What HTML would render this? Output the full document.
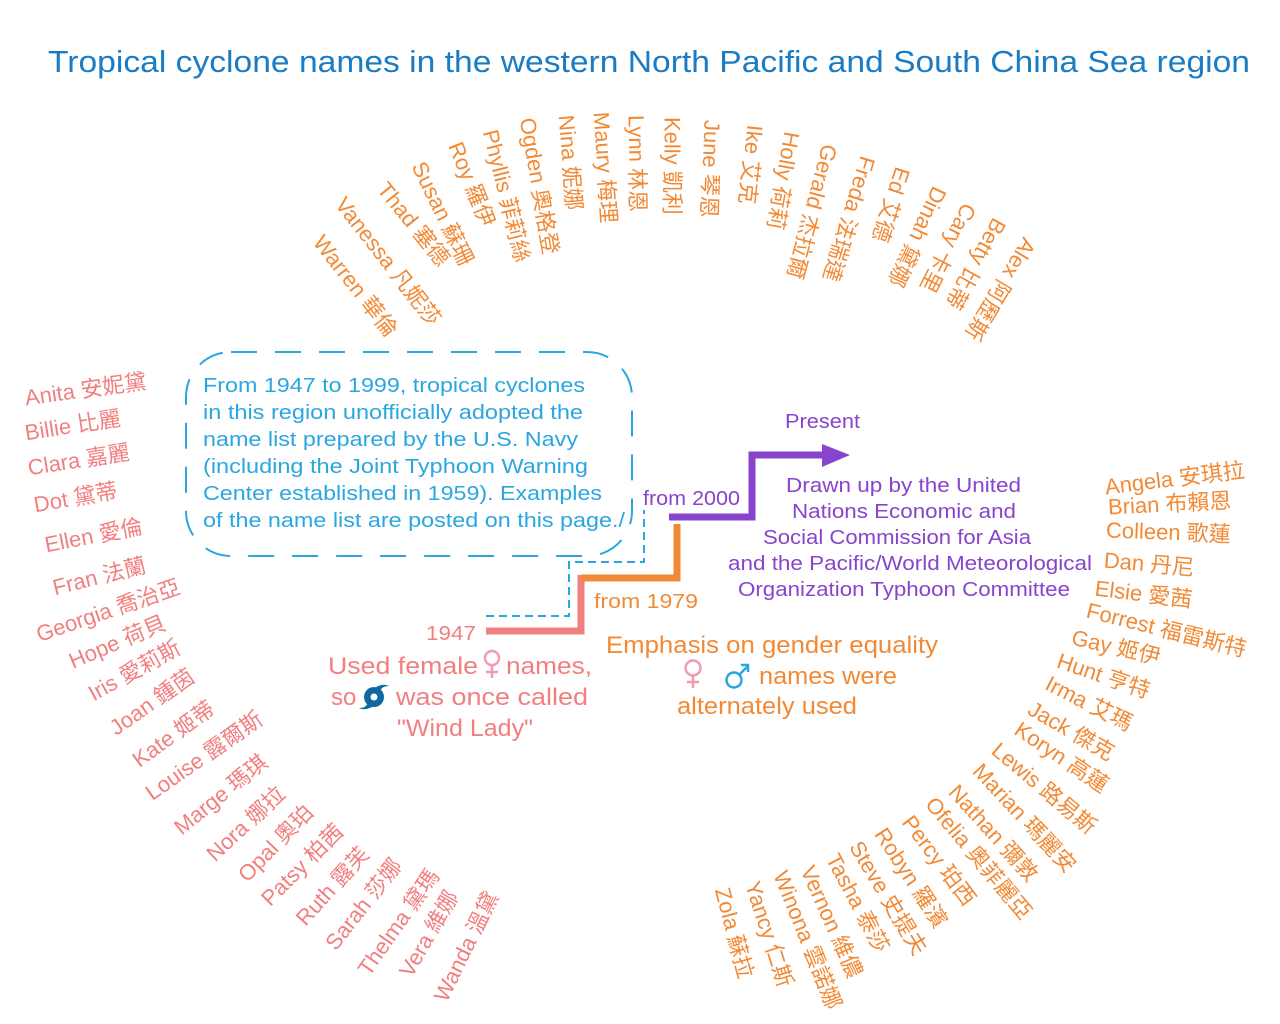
<!DOCTYPE html>
<html><head><meta charset="utf-8"><style>
html,body{margin:0;padding:0;background:#fff;}
svg{display:block;}
text{font-family:"Liberation Sans","Noto Sans CJK TC",sans-serif;}
.t{font-size:22px;fill:#f28a35;dominant-baseline:central;}
.p{font-size:22px;fill:#f27f80;dominant-baseline:central;}
.o{font-size:22px;fill:#f28a35;dominant-baseline:central;}
</style></head><body>
<svg width="1280" height="1024" viewBox="0 0 1280 1024" xmlns="http://www.w3.org/2000/svg">
<text x="48" y="72" font-size="31" fill="#1a7cc4" textLength="1202" lengthAdjust="spacingAndGlyphs">Tropical cyclone names in the western North Pacific and South China Sea region</text>

<text class="t" transform="translate(318,238) rotate(52)">Warren 華倫</text>
<text class="t" transform="translate(340,200) rotate(52)">Vanessa 凡妮莎</text>
<text class="t" transform="translate(382,185) rotate(51)">Thad 塞德</text>
<text class="t" transform="translate(418,163) rotate(64)">Susan 蘇珊</text>
<text class="t" transform="translate(455,143) rotate(68)">Roy 羅伊</text>
<text class="t" transform="translate(490,130) rotate(76)">Phyllis 菲莉絲</text>
<text class="t" transform="translate(527,118) rotate(80)">Ogden 奧格登</text>
<text class="t" transform="translate(566,115) rotate(85)">Nina 妮娜</text>
<text class="t" transform="translate(601,112) rotate(86)">Maury 梅理</text>
<text class="t" transform="translate(636,115) rotate(89)">Lynn 林恩</text>
<text class="t" transform="translate(672,117) rotate(90)">Kelly 凱利</text>
<text class="t" transform="translate(712,120) rotate(92)">June 琴恩</text>
<text class="t" transform="translate(755,125) rotate(96)">Ike 艾克</text>
<text class="t" transform="translate(792,132) rotate(100)">Holly 荷莉</text>
<text class="t" transform="translate(830,145) rotate(105)">Gerald 杰拉爾</text>
<text class="t" transform="translate(868,157) rotate(107)">Freda 法瑞達</text>
<text class="t" transform="translate(903,168) rotate(108)">Ed 艾德</text>
<text class="t" transform="translate(940,188) rotate(115)">Dinah 黛娜</text>
<text class="t" transform="translate(970,205) rotate(117)">Cary 卡里</text>
<text class="t" transform="translate(1000,220) rotate(119)">Betty 比蒂</text>
<text class="t" transform="translate(1030,240) rotate(121)">Alex 阿歷斯</text>

<text class="p" transform="translate(25,398) rotate(-8)">Anita 安妮黛</text>
<text class="p" transform="translate(25,433) rotate(-9)">Billie 比麗</text>
<text class="p" transform="translate(28,468) rotate(-9)">Clara 嘉麗</text>
<text class="p" transform="translate(34,505) rotate(-10)">Dot 黛蒂</text>
<text class="p" transform="translate(45,545) rotate(-11)">Ellen 愛倫</text>
<text class="p" transform="translate(53,588) rotate(-14)">Fran 法蘭</text>
<text class="p" transform="translate(37,635) rotate(-19)">Georgia 喬治亞</text>
<text class="p" transform="translate(70,662) rotate(-23)">Hope 荷貝</text>
<text class="p" transform="translate(90,695) rotate(-29)">Iris 愛莉斯</text>
<text class="p" transform="translate(112,730) rotate(-35)">Joan 鍾茵</text>
<text class="p" transform="translate(135,762) rotate(-36)">Kate 姬蒂</text>
<text class="p" transform="translate(148,795) rotate(-35)">Louise 露爾斯</text>
<text class="p" transform="translate(177,830) rotate(-39)">Marge 瑪琪</text>
<text class="p" transform="translate(210,857) rotate(-43)">Nora 娜拉</text>
<text class="p" transform="translate(242,878) rotate(-46)">Opal 奧珀</text>
<text class="p" transform="translate(265,902) rotate(-45)">Patsy 柏茜</text>
<text class="p" transform="translate(300,922) rotate(-48)">Ruth 露芙</text>
<text class="p" transform="translate(330,947) rotate(-52)">Sarah 莎娜</text>
<text class="p" transform="translate(363,973) rotate(-55)">Thelma 黛瑪</text>
<text class="p" transform="translate(405,975) rotate(-60)">Vera 維娜</text>
<text class="p" transform="translate(440,1000) rotate(-64)">Wanda 溫黛</text>

<text class="o" transform="translate(1105,487) rotate(-7)">Angela 安琪拉</text>
<text class="o" transform="translate(1108,507) rotate(-3)">Brian 布賴恩</text>
<text class="o" transform="translate(1106,530) rotate(2)">Colleen 歌蓮</text>
<text class="o" transform="translate(1104,560) rotate(5)">Dan 丹尼</text>
<text class="o" transform="translate(1095,588) rotate(7)">Elsie 愛茜</text>
<text class="o" transform="translate(1087,610) rotate(14)">Forrest 福雷斯特</text>
<text class="o" transform="translate(1072,637) rotate(13)">Gay 姬伊</text>
<text class="o" transform="translate(1058,660) rotate(19)">Hunt 亨特</text>
<text class="o" transform="translate(1047,682) rotate(27)">Irma 艾瑪</text>
<text class="o" transform="translate(1030,707) rotate(30)">Jack 傑克</text>
<text class="o" transform="translate(1017,727) rotate(34)">Koryn 高蓮</text>
<text class="o" transform="translate(995,747) rotate(40)">Lewis 路易斯</text>
<text class="o" transform="translate(977,767) rotate(47)">Marian 瑪麗安</text>
<text class="o" transform="translate(953,788) rotate(48)">Nathan 彌敦</text>
<text class="o" transform="translate(930,800) rotate(50)">Ofelia 奧菲麗亞</text>
<text class="o" transform="translate(907,818) rotate(53)">Percy 珀西</text>
<text class="o" transform="translate(880,830) rotate(57)">Robyn 羅濱</text>
<text class="o" transform="translate(855,843) rotate(59)">Steve 史提夫</text>
<text class="o" transform="translate(832,855) rotate(62)">Tasha 泰莎</text>
<text class="o" transform="translate(807,867) rotate(66)">Vernon 維儂</text>
<text class="o" transform="translate(780,872) rotate(68)">Winona 雲諾娜</text>
<text class="o" transform="translate(752,882) rotate(72)">Yancy 仁斯</text>
<text class="o" transform="translate(722,888) rotate(75)">Zola 蘇拉</text>

<rect x="186" y="352" width="446" height="204" rx="45" ry="45" fill="none" stroke="#2aa6e0" stroke-width="2" stroke-dasharray="26,18"/>
<g font-size="20" fill="#2aa6e0" lengthAdjust="spacingAndGlyphs">
<text x="203" y="392" textLength="382" lengthAdjust="spacingAndGlyphs">From 1947 to 1999, tropical cyclones</text>
<text x="203" y="419" textLength="380" lengthAdjust="spacingAndGlyphs">in this region unofficially adopted the</text>
<text x="203" y="446" textLength="375" lengthAdjust="spacingAndGlyphs">name list prepared by the U.S. Navy</text>
<text x="203" y="473" textLength="385" lengthAdjust="spacingAndGlyphs">(including the Joint Typhoon Warning</text>
<text x="203" y="500" textLength="399" lengthAdjust="spacingAndGlyphs">Center established in 1959). Examples</text>
<text x="203" y="527" textLength="422" lengthAdjust="spacingAndGlyphs">of the name list are posted on this page./</text>
</g>
<polyline points="486,616 569,616 569,562 644,562 644,510" fill="none" stroke="#2aa6e0" stroke-width="2" stroke-dasharray="8,5"/>

<polyline points="486,631 581,631 581,575" fill="none" stroke="#f27f80" stroke-width="7"/>
<polyline points="581,578 677,578 677,524" fill="none" stroke="#f28a35" stroke-width="7"/>
<polyline points="669,517 752,517 752,455 828,455" fill="none" stroke="#8844cc" stroke-width="7"/>
<polygon points="822,444 850,455 822,467" fill="#8844cc"/>

<text x="426" y="640" font-size="20" fill="#f27f80" textLength="50" lengthAdjust="spacingAndGlyphs">1947</text>
<text x="594" y="608" font-size="20" fill="#f28a35" textLength="104" lengthAdjust="spacingAndGlyphs">from 1979</text>
<text x="643" y="505" font-size="20" fill="#8844cc" textLength="97" lengthAdjust="spacingAndGlyphs">from 2000</text>
<text x="785" y="428" font-size="20" fill="#8844cc" textLength="75" lengthAdjust="spacingAndGlyphs">Present</text>
<g font-size="20" fill="#8844cc">
<text x="786" y="492" textLength="235" lengthAdjust="spacingAndGlyphs">Drawn up by the United</text>
<text x="792" y="518" textLength="224" lengthAdjust="spacingAndGlyphs">Nations Economic and</text>
<text x="763" y="544" textLength="268" lengthAdjust="spacingAndGlyphs">Social Commission for Asia</text>
<text x="728" y="570" textLength="364" lengthAdjust="spacingAndGlyphs">and the Pacific/World Meteorological</text>
<text x="738" y="596" textLength="332" lengthAdjust="spacingAndGlyphs">Organization Typhoon Committee</text>
</g>

<g font-size="24" fill="#f27f80">
<text x="328" y="674" textLength="150" lengthAdjust="spacingAndGlyphs">Used female</text>
<text x="506" y="674" textLength="86" lengthAdjust="spacingAndGlyphs">names,</text>
<text x="331" y="705">so</text>
<text x="396" y="705" textLength="192" lengthAdjust="spacingAndGlyphs">was once called</text>
<text x="397" y="736" textLength="136" lengthAdjust="spacingAndGlyphs">"Wind Lady"</text>
</g>
<!-- female symbol pink -->
<g stroke="#f29ab0" stroke-width="2.5" fill="none">
<circle cx="492" cy="658" r="7"/>
<line x1="492" y1="665" x2="492" y2="678"/><line x1="486" y1="672" x2="498" y2="672"/>
</g>
<g transform="translate(374,697)">
<circle r="10" fill="#0f68a0"/>
<circle r="3.5" fill="#fff"/>
<path d="M2,-10 Q10,-14 15,-11 Q8,-11 6,-6 Z" fill="#0f68a0"/>
<path d="M-2,10 Q-10,14 -15,11 Q-8,11 -6,6 Z" fill="#0f68a0"/>
</g>

<g font-size="24" fill="#f28a35">
<text x="606" y="653" textLength="332" lengthAdjust="spacingAndGlyphs">Emphasis on gender equality</text>
<text x="759" y="684" textLength="138" lengthAdjust="spacingAndGlyphs">names were</text>
<text x="677" y="714" textLength="180" lengthAdjust="spacingAndGlyphs">alternately used</text>
</g>
<g stroke="#f29ab0" stroke-width="2.5" fill="none">
<circle cx="693" cy="668" r="7.5"/>
<line x1="693" y1="675.5" x2="693" y2="688"/><line x1="687" y1="682" x2="699" y2="682"/>
</g>
<g stroke="#2aa6e0" stroke-width="2.5" fill="none">
<circle cx="734" cy="680" r="7.5"/>
<line x1="739" y1="675" x2="748" y2="666"/><polyline points="741,665 748,665 748,672"/>
</g>
</svg>
</body></html>
